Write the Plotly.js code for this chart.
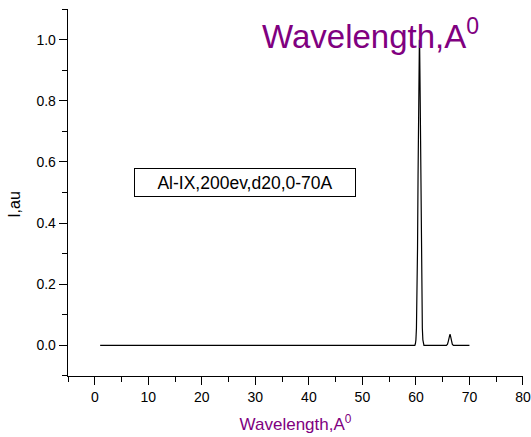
<!DOCTYPE html>
<html>
<head>
<meta charset="utf-8">
<script src="https://cdn.plot.ly/plotly-3.0.1.min.js"></script>
<style>html,body{margin:0;padding:0;background:#fff;}#chart{width:531px;height:437px;}</style>
</head>
<body>
<div id="chart"></div>
<script>
// Wavelength (A) and intensity (a.u.)
var wavelength = [1, 59.8, 59.9, 60.0, 60.1, 60.2, 60.3, 60.4, 60.5, 60.6, 60.65, 60.7, 60.8, 60.9, 61.0, 61.1, 61.2, 61.3, 61.4, 61.5,
                  65.7, 65.9, 66.05, 66.2, 66.3, 66.35, 66.4, 66.5, 66.65, 66.8, 67.0, 70];
var intensity  = [0, 0, 0.005, 0.018, 0.057, 0.148, 0.314, 0.554, 0.808, 0.977, 1.0, 0.977, 0.808, 0.554, 0.314, 0.148, 0.057, 0.018, 0.005, 0,
                  0, 0.004, 0.013, 0.028, 0.035, 0.036, 0.035, 0.028, 0.013, 0.004, 0, 0];
var xTickVals = [0, 10, 20, 30, 40, 50, 60, 70, 80];
var yTickVals = [0.0, 0.2, 0.4, 0.6, 0.8, 1.0];
var yTickText = ["0.0", "0.2", "0.4", "0.6", "0.8", "1.0"];
var legendText = "Al-IX,200ev,d20,0-70A";
var titleText = "Wavelength,A<sup>0</sup>";
var yTitleText = "I,au";

var font = "Liberation Sans, Arial, sans-serif";
var purple = "#800080";

var data = [{
  x: wavelength, y: intensity, type: "scatter", mode: "lines",
  line: {color: "#000", width: 1.2, shape: "linear"},
  hoverinfo: "skip", showlegend: false
}];

var layout = {
  width: 531, height: 437,
  margin: {l: 68, r: 8, t: 9, b: 61, pad: 0},
  paper_bgcolor: "#fff", plot_bgcolor: "#fff",
  font: {family: font, size: 14, color: "#000"},
  showlegend: false,
  xaxis: {
    range: [-5.01, 80.01], tickmode: "array", tickvals: xTickVals,
    ticks: "outside", ticklen: 8, tickwidth: 1, tickcolor: "#000",
    minor: {dtick: 5, tick0: 0, ticks: "outside", ticklen: 5, tickwidth: 1, tickcolor: "#000"},
    showline: true, linecolor: "#000", linewidth: 1.3, showgrid: false, zeroline: false,
    tickfont: {family: font, size: 14, color: "#000"},
    title: {text: titleText, font: {family: font, size: 17, color: purple}, standoff: 14},
    automargin: false
  },
  yaxis: {
    range: [-0.1003, 1.1003], tickmode: "array", tickvals: yTickVals, ticktext: yTickText,
    ticks: "outside", ticklen: 8, tickwidth: 1, tickcolor: "#000",
    minor: {dtick: 0.1, tick0: 0, ticks: "outside", ticklen: 5, tickwidth: 1, tickcolor: "#000"},
    showline: true, linecolor: "#000", linewidth: 1.3, showgrid: false, zeroline: false,
    tickfont: {family: font, size: 14, color: "#000"},
    automargin: false
  },
  annotations: [
    {text: legendText, xref: "x", yref: "y", x: 28.0, y: 0.532, showarrow: false,
     font: {family: font, size: 17.5, color: "#000"},
     bordercolor: "#000", borderwidth: 1, borderpad: 1, width: 218, height: 25,
     xanchor: "center", yanchor: "middle", bgcolor: "rgba(255,255,255,0)"},
    {text: titleText, xref: "paper", yref: "paper", x: 0.423, y: 0.868, showarrow: false,
     xanchor: "left", yanchor: "bottom",
     font: {family: font, size: 33, color: purple}},
    {text: yTitleText, xref: "paper", yref: "paper", x: -0.1165, y: 0.469, showarrow: false,
     textangle: -90, xanchor: "center", yanchor: "middle",
     font: {family: font, size: 16, color: "#000"}}
  ]
};

Plotly.newPlot("chart", data, layout, {displayModeBar: false, staticPlot: true});
</script>
</body>
</html>
